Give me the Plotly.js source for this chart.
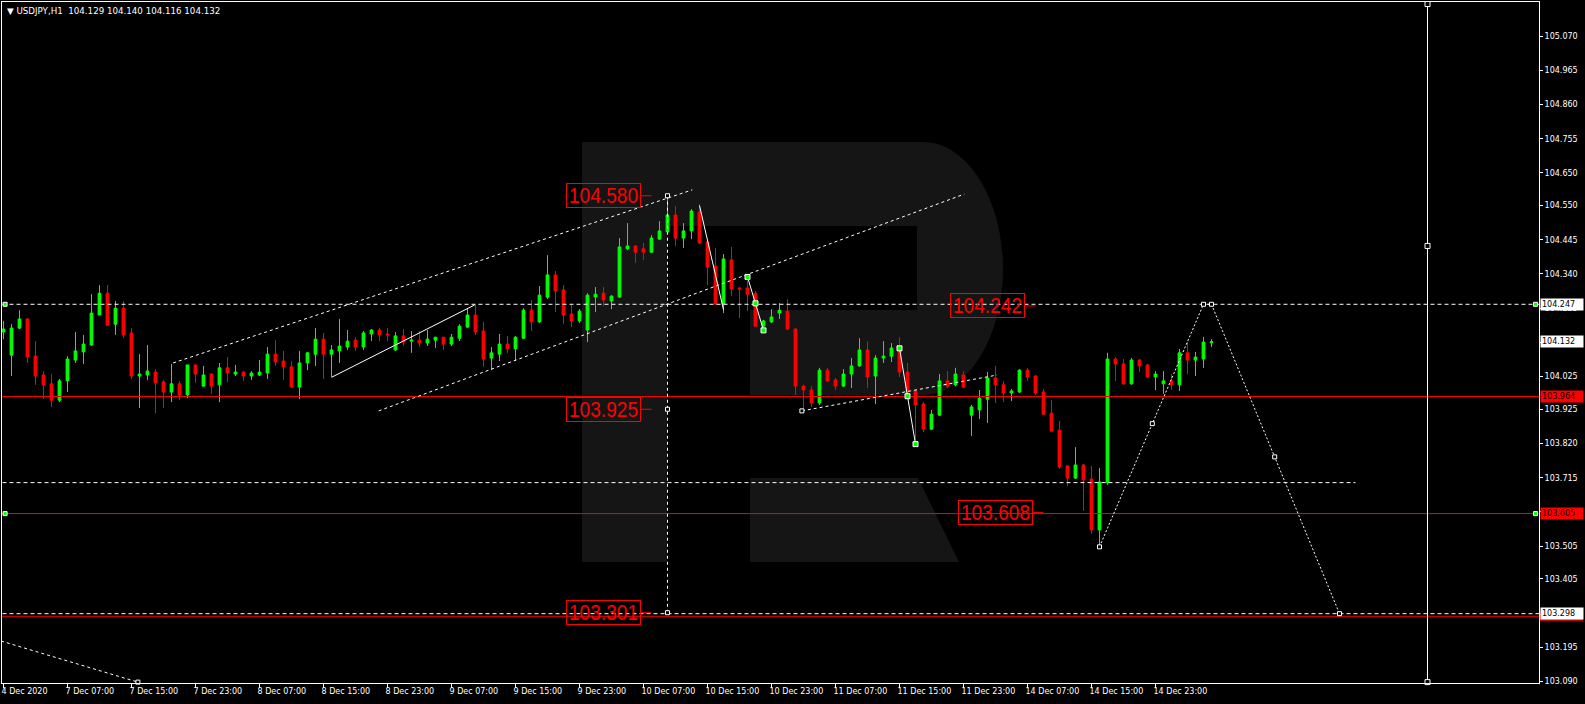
<!DOCTYPE html>
<html><head><meta charset="utf-8">
<script src="https://cdn.plot.ly/plotly-3.0.1.min.js"></script>
<style>html,body{margin:0;padding:0;background:#000;overflow:hidden}#chart{width:1585px;height:704px}</style>
</head><body><div id="chart"></div>
<script>
// ---------- data ----------
const symbolTitle = "USDJPY,H1";
const lastQuote = [104.129, 104.140, 104.116, 104.132];

const openP = [104.162,104.091,104.174,104.202,104.088,104.030,104.003,103.953,104.012,104.076,
104.101,104.122,104.214,104.281,104.186,104.235,104.159,104.027,104.030,104.039,
104.009,103.978,104.003,103.969,104.061,103.996,104.033,104.000,104.052,104.033,
104.039,104.027,104.030,104.036,104.094,104.073,104.055,103.993,104.067,104.094,
104.140,104.094,104.104,104.116,104.137,104.116,104.156,104.168,104.156,104.107,
104.150,104.134,104.137,104.128,104.137,104.146,104.125,104.143,104.177,104.214,
104.165,104.082,104.094,104.125,104.110,104.143,104.229,104.193,104.269,104.337,
104.291,104.217,104.196,104.168,104.269,104.281,104.257,104.269,104.417,104.426,
104.417,104.407,104.447,104.469,104.521,104.450,104.472,104.530,104.438,104.364,
104.248,104.383,104.297,104.297,104.281,104.180,104.193,104.220,104.226,104.171,
103.996,103.984,103.944,104.045,104.015,103.996,104.033,104.058,104.107,104.027,
104.082,104.088,104.113,104.039,103.981,103.941,103.864,103.907,104.012,104.000,
104.030,103.907,103.923,103.956,104.021,104.000,103.975,103.978,104.045,104.027,
103.978,103.913,103.861,103.751,103.714,103.754,103.711,103.555,103.699,104.079,
104.064,104.003,104.076,104.061,104.024,104.003,104.012,104.000,104.098,104.076,
104.079,104.129];
const highP = [104.196,104.186,104.229,104.205,104.134,104.042,104.033,104.018,104.088,104.162,
104.153,104.278,104.306,104.306,104.257,104.257,104.174,104.094,104.122,104.048,
104.015,104.064,104.012,104.061,104.061,104.058,104.036,104.067,104.085,104.061,
104.042,104.042,104.076,104.116,104.137,104.104,104.073,104.104,104.100,104.174,
104.159,104.122,104.202,104.168,104.146,104.165,104.171,104.174,104.174,104.162,
104.171,104.165,104.165,104.168,104.147,104.147,104.156,104.186,104.235,104.245,
104.193,104.116,104.156,104.150,104.150,104.235,104.260,104.303,104.398,104.349,
104.306,104.245,104.232,104.281,104.300,104.300,104.275,104.450,104.496,104.429,
104.435,104.459,104.502,104.580,104.548,104.496,104.539,104.554,104.441,104.420,
104.401,104.423,104.300,104.331,104.288,104.199,104.232,104.251,104.263,104.174,
104.000,103.996,104.052,104.052,104.021,104.048,104.082,104.143,104.134,104.091,
104.134,104.128,104.146,104.067,103.984,103.947,103.923,104.033,104.042,104.052,
104.042,103.938,103.984,104.039,104.058,104.012,103.987,104.048,104.052,104.030,
103.987,103.953,103.889,103.754,103.809,103.757,103.751,103.745,104.098,104.085,
104.079,104.082,104.079,104.064,104.042,104.042,104.033,104.110,104.131,104.101,
104.147,104.140];
const lowP = [104.140,104.027,104.171,104.067,104.000,103.956,103.932,103.947,103.978,104.067,
104.064,104.119,104.214,104.180,104.153,104.143,104.018,103.929,104.015,103.913,
103.929,103.947,103.953,103.959,104.006,103.994,103.972,103.947,104.009,104.027,
104.012,104.015,104.027,104.018,104.058,104.015,103.990,103.956,104.045,104.058,
104.018,104.024,104.067,104.107,104.104,104.107,104.134,104.134,104.134,104.104,
104.119,104.098,104.116,104.119,104.113,104.107,104.119,104.134,104.174,104.153,
104.055,104.045,104.073,104.098,104.073,104.140,104.165,104.190,104.263,104.223,
104.186,104.177,104.190,104.131,104.223,104.241,104.232,104.266,104.413,104.374,
104.383,104.404,104.444,104.466,104.426,104.420,104.447,104.432,104.306,104.245,
104.220,104.272,104.205,104.226,104.177,104.177,104.190,104.202,104.168,103.969,
103.920,103.932,103.938,104.009,103.984,103.993,103.990,104.055,103.990,103.941,
104.067,104.070,104.024,103.969,103.818,103.855,103.861,103.904,103.990,103.996,
103.990,103.843,103.895,103.883,103.944,103.947,103.950,103.975,104.012,103.969,
103.907,103.855,103.742,103.690,103.711,103.613,103.543,103.503,103.693,104.012,
104.000,104.000,104.039,104.021,103.984,103.972,103.984,103.981,104.033,104.027,
104.052,104.116];
const closeP = [104.171,104.174,104.202,104.085,104.027,104.000,103.953,104.012,104.079,104.104,
104.125,104.220,104.281,104.183,104.235,104.153,104.027,104.033,104.042,104.006,
103.978,104.003,103.969,104.061,104.033,104.030,103.996,104.052,104.036,104.039,
104.027,104.036,104.039,104.094,104.070,104.055,103.993,104.067,104.098,104.140,
104.094,104.107,104.119,104.134,104.116,104.159,104.168,104.153,104.153,104.150,
104.131,104.137,104.128,104.140,104.146,104.125,104.146,104.180,104.214,104.162,
104.079,104.098,104.125,104.110,104.146,104.229,104.193,104.275,104.337,104.288,
104.214,104.196,104.226,104.275,104.278,104.260,104.272,104.423,104.426,104.407,
104.407,104.450,104.472,104.521,104.450,104.472,104.533,104.435,104.361,104.248,
104.386,104.294,104.294,104.278,104.180,104.196,104.208,104.229,104.171,103.996,
103.984,103.944,104.045,104.012,103.996,104.033,104.058,104.107,104.024,104.082,
104.088,104.113,104.039,103.978,103.938,103.864,103.910,104.012,103.996,104.033,
103.993,103.932,103.959,104.021,104.000,103.975,103.981,104.045,104.024,103.975,
103.910,103.858,103.748,103.714,103.754,103.708,103.555,103.702,104.079,104.064,
104.003,104.076,104.058,104.024,104.033,104.012,104.000,104.098,104.076,104.085,
104.131,104.132];

const xTickBars = [0,8,16,24,32,40,48,56,64,72,80,88,96,104,112,120,128,136,144];
const xTickLabels = ["4 Dec 2020","7 Dec 07:00","7 Dec 15:00","7 Dec 23:00","8 Dec 07:00","8 Dec 15:00",
"8 Dec 23:00","9 Dec 07:00","9 Dec 15:00","9 Dec 23:00","10 Dec 07:00","10 Dec 15:00","10 Dec 23:00",
"11 Dec 07:00","11 Dec 15:00","11 Dec 23:00","14 Dec 07:00","14 Dec 15:00","14 Dec 23:00"];
const yTickValues = [105.070,104.965,104.860,104.755,104.650,104.550,104.445,104.340,104.235,104.130,
104.025,103.925,103.820,103.715,103.610,103.505,103.405,103.300,103.195,103.090];

// horizontal levels
const whiteDashLevels = [104.247, 103.298];
const redLevels = [103.964, 103.605, 103.290];
const shortDashLevel = [103.700];
const shortDashBars = [-1, 169];

// analysis objects (bar index, price)
const upperChannelBars = [21.2, 86.1];
const upperChannelPrices = [104.067, 104.598];
const lowerChannelBars = [46.9, 120.1];
const lowerChannelPrices = [103.920, 104.585];
const smallTrendBars = [41.0, 58.9];
const smallTrendPrices = [104.023, 104.245];
const vertDashBars = [83, 83, 83];
const vertDashPrices = [104.580, 103.925, 103.301];
const zigABars = [87, 90];
const zigAPrices = [104.550, 104.230];
const zigBBars = [93, 94, 95];
const zigBPrices = [104.331, 104.250, 104.167];
const zigCBars = [112, 113, 114];
const zigCPrices = [104.112, 103.965, 103.818];
const flatLineBars = [99.8, 124.2];
const flatLinePrices = [103.920, 104.030];
const projBars = [137, 150, 151, 167];
const projPrices = [103.503, 104.247, 104.247, 103.298];
const projMidBars = [143.6, 158.9];
const projMidPrices = [103.881, 103.779];
const cornerLineBars = [-0.3, 16.8];
const cornerLinePrices = [103.214, 103.088];
const timeLineBar = [178];
const timeLinePrices = [105.168, 104.426, 103.088];

// boxed price labels
const labelTexts = ["104.580", "103.925", "103.301", "104.242", "103.608"];
const labelBars = [81, 81, 81, 129, 130];
const labelPrices = [104.580, 103.925, 103.301, 104.242, 103.608];

// price-axis boxes (the red 103.290 box sits hidden under the white 103.298 one)
const axisBoxPrices = [104.247, 104.132, 103.964, 103.605, 103.298];
const axisBoxColors = ["#ffffff", "#ffffff", "#ff0000", "#ff0000", "#ffffff"];
const hiddenRedBoxPrice = [103.290];

// ---------- drawing ----------
const GREEN = "#00ff00", RED = "#ff0000", WHITE = "#ffffff";
const FONT = "DejaVu Sans";
const barIdx = openP.map((_, i) => i);
const X0 = -1, X1 = 200;

const traces = [];
function seg(xs, ys, color, dash, width) {
  traces.push({type: "scatter", mode: "lines", x: xs, y: ys, hoverinfo: "skip",
    line: {color: color, width: width || 1, dash: dash || "solid"}});
}
function marks(xs, ys, fill, size) {
  traces.push({type: "scatter", mode: "markers", x: xs, y: ys, hoverinfo: "skip", cliponaxis: false,
    marker: {symbol: "square", size: size || 5, color: fill, line: {color: WHITE, width: 1}}});
}

whiteDashLevels.forEach(p => seg([X0, X1], [p, p], WHITE, "4px,3px"));
redLevels.forEach(p => seg([X0, X1], [p, p], RED, "solid"));
seg(shortDashBars, [shortDashLevel[0], shortDashLevel[0]], WHITE, "4px,3px");
seg(upperChannelBars, upperChannelPrices, WHITE, "3px,3px");
seg(lowerChannelBars, lowerChannelPrices, WHITE, "3px,3px");
seg(flatLineBars, flatLinePrices, WHITE, "3px,3px");
seg([vertDashBars[0], vertDashBars[2]], [vertDashPrices[0], vertDashPrices[2]], WHITE, "3px,3px");
seg(cornerLineBars, cornerLinePrices, WHITE, "3px,3px");
seg(projBars, projPrices, WHITE, "2px,2px");
seg([timeLineBar[0], timeLineBar[0]], [103.0, 105.3], WHITE, "solid");

traces.push({
  type: "candlestick", x: barIdx, open: openP, high: highP, low: lowP, close: closeP,
  hoverinfo: "skip", whiskerwidth: 0,
  increasing: {line: {color: GREEN, width: 1}, fillcolor: GREEN},
  decreasing: {line: {color: RED, width: 1}, fillcolor: RED}
});

seg(smallTrendBars, smallTrendPrices, WHITE, "solid");
seg(zigABars, zigAPrices, WHITE, "solid");
seg(zigBBars, zigBPrices, WHITE, "solid");
seg(zigCBars, zigCPrices, WHITE, "solid");

marks(zigBBars, zigBPrices, GREEN, 5);
marks(zigCBars, zigCPrices, GREEN, 5);
marks([0.2, 191.5], [whiteDashLevels[0], whiteDashLevels[0]], GREEN, 4);
marks([0.2, 191.5], [redLevels[1], redLevels[1]], GREEN, 4);
marks(vertDashBars, vertDashPrices, "#000000", 4);
marks(projBars.concat(projMidBars), projPrices.concat(projMidPrices), "#000000", 4);
marks([flatLineBars[0]], [flatLinePrices[0]], "#000000", 4);
marks([cornerLineBars[1]], [cornerLinePrices[1]], "#000000", 4);
marks([timeLineBar[0], timeLineBar[0], timeLineBar[0]], timeLinePrices, "#000000", 5);

// ---------- watermark (pixel outline -> paper coords) ----------
const PL = 2, PR = 1539, PT = 2, PB = 683;
function toPaper(path) {
  return path.replace(/(-?\d+(?:\.\d+)?),(-?\d+(?:\.\d+)?)/g, (m, a, b) =>
    (((+a) - PL) / (PR - PL)).toFixed(5) + "," + ((PB - (+b)) / (PB - PT)).toFixed(5));
}
const rMain = "M582,142 L923,142 C967,142 1003,199 1003,268 C1003,338 967,395 923,395 L750,395 L750,310 L917,310 L917,226 L667,226 L667,562 L582,562 Z";
const rLeg = "M750,478 L918,478 L959,562 L750,562 Z";
const shapes = [rMain, rLeg].map(p => ({type: "path", xref: "paper", yref: "paper", layer: "below",
  path: toPaper(p), fillcolor: "#151515", line: {width: 0}}));
// red axis box partly hidden under the white 103.298 box
shapes.push({type: "rect", xref: "paper", yref: "y", layer: "above",
  x0: 1 + 1 / (PR - PL), x1: 1 + 44 / (PR - PL),
  y0: hiddenRedBoxPrice[0] - 0.014, y1: hiddenRedBoxPrice[0] + 0.014,
  fillcolor: RED, line: {width: 0}});

// ---------- annotations ----------
const annotations = [];
annotations.push({xref: "paper", yref: "paper", x: 0, y: 1, xanchor: "left", yanchor: "top",
  xshift: 3, yshift: -2, showarrow: false, align: "left",
  text: "\u25BC\u00a0" + symbolTitle + "\u00a0\u00a0" + lastQuote.map(v => v.toFixed(3)).join("\u00a0"),
  font: {family: FONT, size: 8.7, color: WHITE}});

labelTexts.forEach((t, i) => annotations.push({
  x: labelBars[i], y: labelPrices[i], xref: "x", yref: "y", text: t,
  showarrow: true, arrowhead: 0, arrowwidth: 1, arrowcolor: RED, standoff: 0, startstandoff: 0,
  ax: -48, ay: 0, width: 71, height: 21, borderpad: 1, borderwidth: 1, bordercolor: RED,
  font: {family: "Liberation Sans, Arial", size: 22, color: RED}
}));

axisBoxPrices.forEach((p, i) => annotations.push({
  xref: "paper", yref: "y", x: 1, y: p, xanchor: "left", yanchor: "middle", xshift: 1,
  showarrow: false, text: p.toFixed(3), bgcolor: axisBoxColors[i], borderpad: 1,
  width: 40, height: 9, align: "left",
  font: {family: FONT, size: 8, color: "#000000"}
}));

const layout = {
  width: 1585, height: 704,
  margin: {l: PL, r: 1585 - PR, t: PT, b: 704 - PB, pad: 0},
  paper_bgcolor: "#000000", plot_bgcolor: "#000000",
  showlegend: false, boxgap: 0.5,
  xaxis: {type: "linear", range: [-0.1875, 191.9375], automargin: false,
    showgrid: false, zeroline: false, showline: true, mirror: true, linecolor: WHITE, linewidth: 1,
    ticks: "outside", ticklen: 4, tickcolor: WHITE, tickwidth: 1,
    tickvals: xTickBars, ticktext: xTickLabels, ticklabelposition: "outside right", ticklabelshift: -3,
    tickfont: {family: FONT, size: 8, color: WHITE}, rangeslider: {visible: false}, fixedrange: true},
  yaxis: {range: [103.0853, 105.1743], side: "right", automargin: false,
    showgrid: false, zeroline: false, showline: true, mirror: true, linecolor: WHITE, linewidth: 1,
    ticks: "outside", ticklen: 3, tickcolor: WHITE, tickwidth: 1,
    tickvals: yTickValues, tickformat: ".3f",
    tickfont: {family: FONT, size: 8, color: WHITE}, fixedrange: true},
  shapes: shapes,
  annotations: annotations
};

Plotly.newPlot("chart", traces, layout, {staticPlot: true, displayModeBar: false}).then(gd => {
  // condense the big boxed labels to the narrow width used by the terminal
  gd.querySelectorAll("text.annotation-text").forEach(el => {
    if (labelTexts.indexOf(el.textContent) >= 0) {
      el.setAttribute("textLength", "69");
      el.setAttribute("lengthAdjust", "spacingAndGlyphs");
    }
  });
});
</script></body></html>
